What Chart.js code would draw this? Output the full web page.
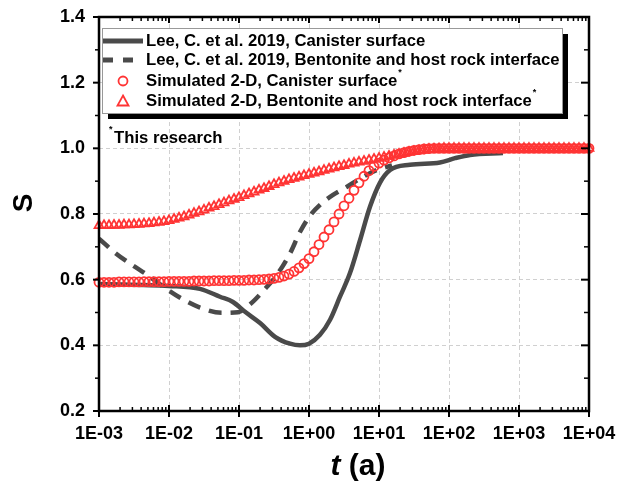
<!DOCTYPE html>
<html>
<head>
<meta charset="utf-8">
<script src="https://cdn.jsdelivr.net/npm/chart.js@4.4.0/dist/chart.umd.min.js"></script>
<style>
  html, body { margin: 0; padding: 0; background: #fff; }
  #wrap { width: 629px; height: 492px; }
</style>
</head>
<body>
<div id="wrap"><canvas id="chart" width="629" height="492"></canvas></div>
<script>
// Lee, C. et al. 2019 - canister surface (solid)
const leeCanisterT = [0.001, 0.01, 0.0277, 0.0536, 0.082, 0.122, 0.2, 0.327, 0.536, 0.743, 1.0, 1.435, 2.0, 2.77, 3.85, 5.36, 7.43, 10.3, 14.4, 27.7, 74.3, 122, 200, 590];
const leeCanisterS = [0.587, 0.581, 0.572, 0.548, 0.532, 0.502, 0.468, 0.426, 0.405, 0.400, 0.405, 0.432, 0.478, 0.548, 0.620, 0.720, 0.822, 0.895, 0.934, 0.950, 0.957, 0.970, 0.980, 0.986];

// Lee, C. et al. 2019 - bentonite / host rock interface (dashed)
const leeInterfaceT = [0.001, 0.001694, 0.002958, 0.004853, 0.00877, 0.01585, 0.02773, 0.05715, 0.09683, 0.1436, 0.2203, 0.3491, 0.5358, 0.743, 1.033, 1.436, 2.203, 3.491, 5.902, 9.354, 15.35];
const leeInterfaceS = [0.725, 0.682, 0.645, 0.615, 0.575, 0.540, 0.515, 0.499, 0.501, 0.525, 0.565, 0.615, 0.680, 0.745, 0.795, 0.828, 0.858, 0.883, 0.913, 0.934, 0.948];

// simulated 2-D output times: 14 steps per decade
const simMantissa = [1.000, 1.179, 1.389, 1.638, 1.931, 2.276, 2.683, 3.162, 3.728, 4.394, 5.179, 6.105, 7.197, 8.483];
const simDecades = [1e-3, 1e-2, 1e-1, 1e0, 1e1, 1e2, 1e3];
const simLastT = 1e4;

const simCanisterS = [
  0.592, 0.592, 0.592, 0.592, 0.593, 0.593, 0.593, 0.593, 0.593, 0.594, 0.594, 0.594, 0.594, 0.594,
  0.595, 0.595, 0.595, 0.595, 0.595, 0.596, 0.596, 0.596, 0.596, 0.597, 0.597, 0.597, 0.597, 0.598,
  0.598, 0.598, 0.599, 0.599, 0.600, 0.601, 0.602, 0.604, 0.607, 0.611, 0.617, 0.625, 0.636, 0.649,
  0.664, 0.685, 0.707, 0.730, 0.752, 0.776, 0.800, 0.825, 0.848, 0.872, 0.895, 0.915, 0.932, 0.945,
  0.955, 0.964, 0.971, 0.977, 0.983, 0.987, 0.991, 0.994, 0.996, 0.998, 0.999, 1.000, 1.000, 1.000,
  1.000, 1.000, 1.000, 1.000, 1.000, 1.000, 1.000, 1.000, 1.000, 1.000, 1.000, 1.000, 1.000, 1.000,
  1.000, 1.000, 1.000, 1.000, 1.000, 1.000, 1.000, 1.000, 1.000, 1.000, 1.000, 1.000, 1.000, 1.000,
  1.000
];
const simInterfaceS = [
  0.765, 0.765, 0.765, 0.766, 0.766, 0.767, 0.767, 0.768, 0.769, 0.770, 0.771, 0.773, 0.775, 0.777,
  0.780, 0.784, 0.788, 0.792, 0.797, 0.802, 0.807, 0.812, 0.818, 0.823, 0.829, 0.834, 0.840, 0.845,
  0.850, 0.856, 0.862, 0.867, 0.873, 0.878, 0.884, 0.890, 0.895, 0.900, 0.905, 0.909, 0.913, 0.917,
  0.921, 0.925, 0.929, 0.933, 0.937, 0.941, 0.945, 0.948, 0.952, 0.955, 0.958, 0.961, 0.964, 0.967,
  0.970, 0.973, 0.976, 0.979, 0.982, 0.985, 0.988, 0.990, 0.993, 0.995, 0.997, 0.998, 0.999, 1.000,
  1.000, 1.000, 1.000, 1.000, 1.000, 1.000, 1.000, 1.000, 1.000, 1.000, 1.000, 1.000, 1.000, 1.000,
  1.000, 1.000, 1.000, 1.000, 1.000, 1.000, 1.000, 1.000, 1.000, 1.000, 1.000, 1.000, 1.000, 1.000,
  1.000
];

// axes
const xTicks = [1e-3, 1e-2, 1e-1, 1e0, 1e1, 1e2, 1e3, 1e4];
const xTickLabels = ['1E-03', '1E-02', '1E-01', '1E+00', '1E+01', '1E+02', '1E+03', '1E+04'];
const yTicks = [0.2, 0.4, 0.6, 0.8, 1.0, 1.2, 1.4];
const yMinorTicks = [0.3, 0.5, 0.7, 0.9, 1.1, 1.3];

const legendLabels = [
  'Lee, C. et al. 2019, Canister surface',
  'Lee, C. et al. 2019, Bentonite and host rock interface',
  'Simulated 2-D, Canister surface',
  'Simulated 2-D, Bentonite and host rock interface'
];

const FONT = "'Liberation Sans', Arial, sans-serif";
const GRAY = '#4a4a4a';
const RED = '#ff3434';

const simT = simDecades.flatMap(d => simMantissa.map(m => +(m * d).toPrecision(4))).concat([simLastT]);
const pts = (xs, ys) => xs.map((v, i) => ({ x: v, y: ys[i] }));

const decor = {
  id: 'decor',
  afterDraw(chart) {
    const { ctx, chartArea: a, scales: { x, y } } = chart;
    ctx.save();
    const seg = (x1, y1, x2, y2) => { ctx.beginPath(); ctx.moveTo(x1, y1); ctx.lineTo(x2, y2); ctx.stroke(); };
    ctx.strokeStyle = '#000';

    // x ticks
    ctx.lineWidth = 2;
    xTicks.forEach(v => {
      const px = x.getPixelForValue(v);
      seg(px, a.bottom - 6, px, a.bottom + 6);
      seg(px, a.top, px, a.top + 6);
    });
    ctx.lineWidth = 1.5;
    simDecades.forEach(d => {
      for (let m = 2; m <= 9; m++) {
        const px = x.getPixelForValue(m * d);
        seg(px, a.bottom, px, a.bottom - 4);
        seg(px, a.top, px, a.top + 4);
      }
    });
    // y ticks
    ctx.lineWidth = 2;
    yTicks.forEach(v => {
      const py = y.getPixelForValue(v);
      seg(a.left - 6, py, a.left, py);
      seg(a.right, py, a.right - 8, py);
    });
    ctx.lineWidth = 1.5;
    yMinorTicks.forEach(v => {
      const py = y.getPixelForValue(v);
      seg(a.left - 4, py, a.left, py);
      seg(a.right, py, a.right - 5, py);
    });

    // frame
    ctx.lineWidth = 2.5;
    ctx.strokeRect(a.left, a.top, a.right - a.left, a.bottom - a.top);

    // legend box with shadow
    const bx = 102, by = 28, bw = 460, bh = 85;
    ctx.fillStyle = '#000';
    ctx.fillRect(bx + 6, by + 6, bw, bh);
    ctx.fillStyle = '#fff';
    ctx.fillRect(bx, by, bw, bh);
    ctx.strokeStyle = '#999';
    ctx.lineWidth = 1;
    ctx.strokeRect(bx + 0.5, by + 0.5, bw, bh);

    // fit legend font to reference width
    let fs = 15;
    ctx.font = 'bold ' + fs + 'px ' + FONT;
    const w = ctx.measureText(legendLabels[1]).width;
    fs = fs * 414 / w;
    ctx.font = 'bold ' + fs.toFixed(2) + 'px ' + FONT;
    ctx.fillStyle = '#000';
    ctx.textBaseline = 'middle';
    ctx.textAlign = 'left';
    const rows = [41, 60, 81, 101];
    const tx = 146;
    legendLabels.forEach((s, i) => {
      ctx.font = 'bold ' + fs.toFixed(2) + 'px ' + FONT;
      ctx.fillText(s, tx, rows[i]);
      if (i >= 2) {
        const tw = ctx.measureText(s).width;
        ctx.font = 'bold 9px ' + FONT;
        ctx.fillText('*', tx + tw + 1, rows[i] - 8);
      }
    });
    // legend samples
    ctx.strokeStyle = GRAY;
    ctx.lineWidth = 5;
    seg(103, rows[0], 143, rows[0]);
    ctx.setLineDash([10, 10]);
    seg(103, rows[1], 143, rows[1]);
    ctx.setLineDash([]);
    ctx.strokeStyle = RED;
    ctx.lineWidth = 1.8;
    ctx.beginPath(); ctx.arc(123, rows[2], 4.5, 0, Math.PI * 2); ctx.stroke();
    ctx.beginPath();
    ctx.moveTo(123, rows[3] - 5.5); ctx.lineTo(128.5, rows[3] + 4.5); ctx.lineTo(117.5, rows[3] + 4.5); ctx.closePath();
    ctx.stroke();

    // footnote
    ctx.fillStyle = '#000';
    ctx.font = 'bold 9px ' + FONT;
    ctx.fillText('*', 109, 130);
    ctx.font = 'bold ' + fs.toFixed(2) + 'px ' + FONT;
    ctx.fillText('This research', 114, 138);

    // axis titles
    ctx.font = 'bold 28px ' + FONT;
    ctx.textAlign = 'center';
    ctx.save();
    ctx.translate(24, 203);
    ctx.rotate(-Math.PI / 2);
    ctx.fillText('S', 0, 0);
    ctx.restore();
    ctx.textAlign = 'left';
    ctx.font = 'italic bold 30px ' + FONT;
    const tW = ctx.measureText('t').width;
    ctx.font = 'bold 30px ' + FONT;
    const aW = ctx.measureText(' (a)').width;
    const sx = 358 - (tW + aW) / 2;
    ctx.font = 'italic bold 30px ' + FONT;
    ctx.fillText('t', sx, 467);
    ctx.font = 'bold 30px ' + FONT;
    ctx.fillText(' (a)', sx + tW, 467);
    ctx.restore();
  }
};

new Chart(document.getElementById('chart'), {
  type: 'line',
  data: {
    datasets: [
      {
        label: legendLabels[2],
        data: pts(simT, simCanisterS),
        showLine: false,
        pointStyle: 'circle',
        pointRadius: 4.5,
        pointBorderWidth: 1.8,
        borderColor: RED,
        backgroundColor: 'rgba(0,0,0,0)',
        clip: 6,
        order: 0
      },
      {
        label: legendLabels[3],
        data: pts(simT, simInterfaceS),
        showLine: false,
        pointStyle: 'triangle',
        pointRadius: 5.2,
        pointBorderWidth: 1.8,
        borderColor: RED,
        backgroundColor: 'rgba(0,0,0,0)',
        clip: 6,
        order: 0
      },
      {
        label: legendLabels[0],
        data: pts(leeCanisterT, leeCanisterS),
        borderColor: GRAY,
        borderWidth: 4.5,
        pointRadius: 0,
        cubicInterpolationMode: 'monotone',
        fill: false,
        order: 1
      },
      {
        label: legendLabels[1],
        data: pts(leeInterfaceT, leeInterfaceS),
        borderColor: GRAY,
        borderWidth: 4.5,
        borderDash: [13, 9],
        pointRadius: 0,
        cubicInterpolationMode: 'monotone',
        fill: false,
        order: 1
      }
    ]
  },
  options: {
    responsive: false,
    animation: false,
    devicePixelRatio: 1,
    layout: { padding: { left: 0, right: 40, top: 17, bottom: 0 } },
    plugins: { legend: { display: false }, tooltip: { enabled: false } },
    scales: {
      x: {
        type: 'logarithmic',
        min: 1e-3,
        max: 1e4,
        afterBuildTicks: s => { s.ticks = xTicks.map(v => ({ value: v, major: true })); },
        afterFit: s => { s.height = 81; s.paddingLeft = 0; s.paddingRight = 0; },
        ticks: {
          autoSkip: false,
          maxRotation: 0,
          padding: 12,
          color: '#000',
          font: { family: FONT, size: 18, weight: 'bold' },
          callback: (v, i) => xTickLabels[i]
        },
        grid: { color: '#d0d0d0', lineWidth: 1, drawTicks: false },
        border: { display: false, dash: [4, 3] }
      },
      y: {
        min: 0.2,
        max: 1.4,
        afterBuildTicks: s => { s.ticks = yTicks.map(v => ({ value: v })); },
        afterFit: s => { s.width = 99; s.paddingTop = 0; s.paddingBottom = 0; },
        ticks: {
          padding: 14,
          color: '#000',
          font: { family: FONT, size: 18, weight: 'bold' },
          callback: v => v.toFixed(1)
        },
        grid: { color: '#d0d0d0', lineWidth: 1, drawTicks: false },
        border: { display: false, dash: [4, 3] }
      }
    }
  },
  plugins: [decor]
});
</script>
</body>
</html>
